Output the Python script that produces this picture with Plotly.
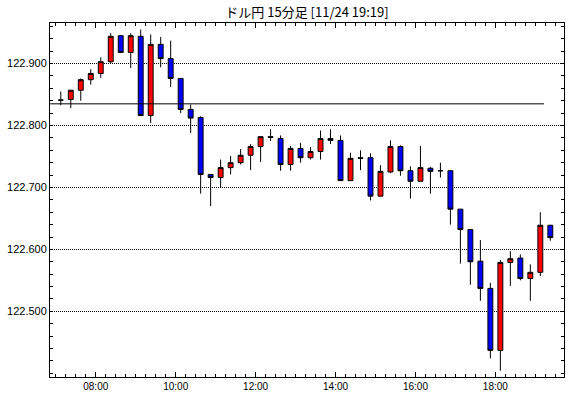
import plotly.graph_objects as go

title_text = "ドル円 15分足 [11/24 19:19]"

times = ["07:00", "07:15", "07:30", "07:45", "08:00", "08:15", "08:30", "08:45",
         "09:00", "09:15", "09:30", "09:45", "10:00", "10:15", "10:30", "10:45",
         "11:00", "11:15", "11:30", "11:45", "12:00", "12:15", "12:30", "12:45",
         "13:00", "13:15", "13:30", "13:45", "14:00", "14:15", "14:30", "14:45",
         "15:00", "15:15", "15:30", "15:45", "16:00", "16:15", "16:30", "16:45",
         "17:00", "17:15", "17:30", "17:45", "18:00", "18:15", "18:30", "18:45",
         "19:00", "19:15"]

opens = [122.841, 122.842, 122.857, 122.874, 122.884, 122.903, 122.945, 122.918,
         122.944, 122.816, 122.931, 122.908, 122.876, 122.826, 122.813, 122.721,
         122.716, 122.732, 122.740, 122.752, 122.766, 122.782, 122.779, 122.737,
         122.763, 122.748, 122.758, 122.779, 122.776, 122.711, 122.748, 122.748,
         122.686, 122.725, 122.766, 122.727, 122.710, 122.731, 122.727, 122.727,
         122.665, 122.632, 122.581, 122.537, 122.437, 122.579, 122.586, 122.553,
         122.563, 122.639]
highs = [122.855, 122.857, 122.876, 122.891, 122.910, 122.949, 122.946, 122.949,
         122.955, 122.947, 122.943, 122.937, 122.876, 122.834, 122.815, 122.721,
         122.745, 122.751, 122.762, 122.770, 122.782, 122.794, 122.784, 122.767,
         122.772, 122.765, 122.792, 122.794, 122.784, 122.756, 122.760, 122.755,
         122.736, 122.776, 122.768, 122.734, 122.767, 122.733, 122.740, 122.727,
         122.665, 122.632, 122.615, 122.546, 122.583, 122.597, 122.592, 122.576,
         122.660, 122.639]
lows = [122.833, 122.828, 122.840, 122.866, 122.877, 122.900, 122.917, 122.893,
        122.816, 122.804, 122.894, 122.862, 122.820, 122.788, 122.690, 122.670,
        122.699, 122.721, 122.737, 122.728, 122.741, 122.775, 122.727, 122.727,
        122.740, 122.745, 122.745, 122.770, 122.711, 122.711, 122.728, 122.679,
        122.686, 122.723, 122.719, 122.682, 122.710, 122.690, 122.716, 122.640,
        122.577, 122.543, 122.517, 122.424, 122.404, 122.541, 122.550, 122.517,
        122.557, 122.614]
closes = [122.841, 122.857, 122.874, 122.884, 122.903, 122.944, 122.918, 122.945,
          122.816, 122.931, 122.908, 122.876, 122.826, 122.812, 122.721, 122.716,
          122.732, 122.740, 122.752, 122.766, 122.782, 122.781, 122.737, 122.763,
          122.748, 122.758, 122.779, 122.776, 122.711, 122.747, 122.747, 122.686,
          122.726, 122.766, 122.727, 122.710, 122.732, 122.726, 122.727, 122.665,
          122.632, 122.580, 122.537, 122.437, 122.579, 122.585, 122.553, 122.563,
          122.639, 122.619]

ref_level = 122.835
ref_end_time = "19:13"

x_tick_labels = ["08:00", "10:00", "12:00", "14:00", "16:00", "18:00"]
y_tick_values = [122.5, 122.6, 122.7, 122.8, 122.9]


def to_hours(t, mid=0.0):
    h, m = t.split(":")
    return int(h) + int(m) / 60.0 + mid


x_vals = [to_hours(t, 0.125) for t in times]
x_tick_vals = [to_hours(t) for t in x_tick_labels]
x_range = [6.855, 19.7175]

fig = go.Figure()
fig.add_trace(go.Candlestick(
    x=x_vals, open=opens, high=highs, low=lows, close=closes,
    increasing=dict(fillcolor="#FF0000", line=dict(color="black", width=1)),
    decreasing=dict(fillcolor="#0000FF", line=dict(color="black", width=1)),
    whiskerwidth=0, showlegend=False, hoverinfo="skip",
))

fig.add_shape(type="line", xref="x", yref="y",
              x0=x_range[0], x1=to_hours(ref_end_time), y0=ref_level, y1=ref_level,
              line=dict(color="black", width=1))

x_font = dict(family="Liberation Sans, Arial, sans-serif", size=10, color="black")
y_font = dict(family="Liberation Sans, Arial, sans-serif", size=11, color="black")

fig.update_layout(
    width=570, height=398,
    margin=dict(l=50, r=6, t=23, b=21),
    paper_bgcolor="white", plot_bgcolor="white",
    title=dict(text=title_text, x=307 / 570, xanchor="center", y=1 - 12 / 398, yanchor="middle",
               font=dict(family="Noto Sans CJK JP, sans-serif", size=13, color="black")),
    xaxis=dict(range=x_range, tickvals=x_tick_vals, ticktext=x_tick_labels,
               ticks="inside", ticklen=5, tickwidth=1, tickcolor="black",
               minor=dict(ticks="inside", dtick=0.25, tick0=0, ticklen=3, tickcolor="black"),
               showline=True, linecolor="black", linewidth=1, mirror="ticks",
               showgrid=False, zeroline=False, tickfont=x_font, automargin=False,
               rangeslider=dict(visible=False), fixedrange=True),
    yaxis=dict(range=[122.394, 122.9655], tickvals=y_tick_values, tickformat=".3f",
               ticks="inside", ticklen=3, tickwidth=1, tickcolor="black",
               minor=dict(ticks="inside", dtick=0.02, tick0=122.5, ticklen=3, tickcolor="black"),
               showline=True, linecolor="black", linewidth=1, mirror="ticks",
               showgrid=True, gridcolor="black", gridwidth=1, griddash="1px,1px",
               zeroline=False, tickfont=y_font, automargin=False, fixedrange=True),
)

fig.write_html("out.html", config=dict(displayModeBar=False),
               post_script="document.body.style.margin='0';document.body.style.overflow='hidden';")
